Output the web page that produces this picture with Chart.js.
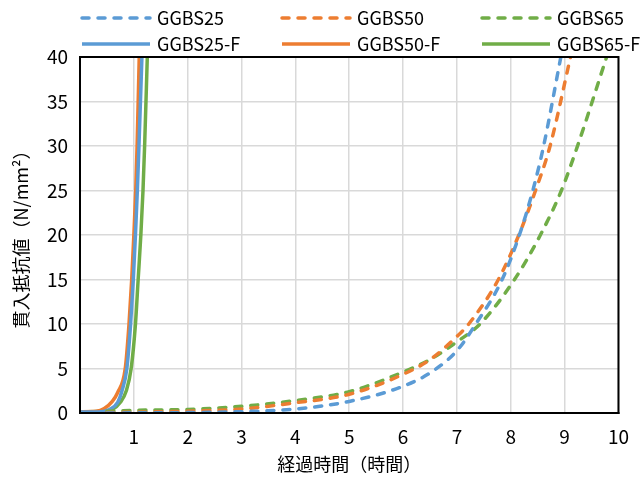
<!DOCTYPE html>
<html>
<head>
<meta charset="utf-8">
<script src="https://cdn.jsdelivr.net/npm/chart.js@4/dist/chart.umd.min.js"></script>
<style>
  html, body { margin: 0; padding: 0; background: #fff; }
  #wrap { width: 641px; height: 477px; }
</style>
</head>
<body>
<div id="wrap"><canvas id="chart"></canvas></div>
<script>
// values (hours, N/mm2)
const seriesNames = ['GGBS25', 'GGBS50', 'GGBS65', 'GGBS25-F', 'GGBS50-F', 'GGBS65-F'];
const seriesColors = ['#5B9BD5', '#ED7D31', '#70AD47', '#5B9BD5', '#ED7D31', '#70AD47'];

const ggbs25X = [0.5, 1, 2, 3, 4, 5, 6, 6.5, 7, 7.34, 7.84, 8.16, 8.41, 8.61, 8.93];
const ggbs25Y = [0, 0.02, 0.05, 0.15, 0.45, 1.3, 3.0, 4.5, 7.0, 9.9, 15, 20, 25, 30, 40];
const ggbs50X = [0.5, 1, 2, 3, 4, 5, 6, 6.5, 7, 7.22, 7.77, 8.15, 8.46, 8.73, 9.11];
const ggbs50Y = [0.05, 0.1, 0.2, 0.45, 1.15, 2.1, 4.35, 6.0, 8.6, 10, 15, 20, 25, 30, 40];
const ggbs65X = [0.5, 1, 2, 3, 4, 5, 6, 6.5, 7, 7.43, 8.07, 8.55, 8.94, 9.24, 9.78];
const ggbs65Y = [0.2, 0.3, 0.4, 0.75, 1.4, 2.4, 4.6, 6.0, 8.0, 10, 15, 20, 25, 30, 40];

const ggbs25fX = [0, 0.35, 0.55, 0.7, 0.78, 0.87, 0.94, 0.99, 1.03, 1.065, 1.095, 1.15];
const ggbs25fY = [0.1, 0.12, 0.4, 1.2, 2.5, 5, 10, 15, 20, 25, 30, 40];
const ggbs50fX = [0, 0.3, 0.45, 0.6, 0.7, 0.84, 0.91, 0.96, 1.0, 1.035, 1.06, 1.1];
const ggbs50fY = [0.15, 0.2, 0.5, 1.3, 2.3, 5, 10, 15, 20, 25, 30, 40];
const ggbs65fX = [0, 0.35, 0.6, 0.75, 0.86, 0.95, 1.03, 1.08, 1.13, 1.17, 1.2, 1.25];
const ggbs65fY = [0.15, 0.17, 0.4, 1.2, 2.5, 5, 10, 15, 20, 25, 30, 40];

const xTitle = '経過時間（時間）';
const yTitle = '貫入抵抗値（N/mm²）';

const FONT = "'Noto Sans CJK JP', sans-serif";

function pts(xs, ys) {
  return xs.map((x, i) => ({ x, y: ys[i] }));
}

function dataset(idx, xs, ys, dashed) {
  return {
    label: seriesNames[idx],
    data: pts(xs, ys),
    borderColor: seriesColors[idx],
    backgroundColor: seriesColors[idx],
    borderWidth: 3.5,
    borderDash: dashed ? [7, 9] : [],
    borderCapStyle: dashed ? 'round' : 'butt',
    pointRadius: 0,
    cubicInterpolationMode: 'monotone',
    fill: false
  };
}

// 2 x 3 legend above the plot
const gridLegend = {
  id: 'gridLegend',
  afterDraw(chart) {
    const ctx = chart.ctx;
    const colX = [80, 280, 480];
    const rowY = [18, 44];
    ctx.save();
    ctx.font = `18px ${FONT}`;
    ctx.textBaseline = 'middle';
    chart.data.datasets.forEach((ds, i) => {
      const x = colX[i % 3];
      const y = rowY[Math.floor(i / 3)];
      ctx.strokeStyle = ds.borderColor;
      ctx.lineWidth = ds.borderWidth;
      ctx.lineCap = ds.borderCapStyle;
      ctx.setLineDash(ds.borderDash);
      ctx.beginPath();
      ctx.moveTo(x + 2, y);
      ctx.lineTo(x + 70, y);
      ctx.stroke();
      ctx.setLineDash([]);
      ctx.fillStyle = '#000';
      ctx.fillText(ds.label, x + 77, y);
    });
    ctx.restore();
  }
};

const plotFrame = {
  id: 'plotFrame',
  afterDatasetsDraw(chart) {
    const { left, top, right, bottom } = chart.chartArea;
    const ctx = chart.ctx;
    ctx.save();
    ctx.strokeStyle = '#000';
    ctx.lineWidth = 2;
    ctx.strokeRect(left, top, right - left, bottom - top);
    ctx.restore();
  }
};

new Chart(document.getElementById('chart'), {
  type: 'line',
  data: {
    datasets: [
      dataset(0, ggbs25X, ggbs25Y, true),
      dataset(1, ggbs50X, ggbs50Y, true),
      dataset(2, ggbs65X, ggbs65Y, true),
      dataset(3, ggbs25fX, ggbs25fY, false),
      dataset(4, ggbs50fX, ggbs50fY, false),
      dataset(5, ggbs65fX, ggbs65fY, false)
    ]
  },
  options: {
    responsive: true,
    maintainAspectRatio: false,
    animation: false,
    layout: { padding: { top: 57, right: 16, bottom: 0, left: 0 } },
    plugins: {
      legend: { display: false },
      tooltip: { enabled: false }
    },
    scales: {
      x: {
        type: 'linear',
        min: 0,
        max: 10,
        afterFit(scale) { scale.height = 64; },
        ticks: {
          stepSize: 1,
          padding: 12,
          color: '#000',
          font: { family: FONT, size: 19 },
          maxRotation: 0,
          callback: v => (v === 0 ? '' : v)
        },
        grid: { color: '#d9d9d9', lineWidth: 1.5, drawTicks: false },
        border: { color: '#000', width: 2 },
        title: {
          display: true,
          text: xTitle,
          color: '#000',
          font: { family: FONT, size: 18 },
          padding: { top: 0, bottom: 2 }
        }
      },
      y: {
        min: 0,
        max: 40,
        afterFit(scale) { scale.width = 80; },
        ticks: {
          stepSize: 5,
          padding: 12,
          color: '#000',
          font: { family: FONT, size: 19 }
        },
        grid: { color: '#d9d9d9', lineWidth: 1.5, drawTicks: false },
        border: { color: '#000', width: 2 },
        title: {
          display: true,
          text: yTitle,
          color: '#000',
          font: { family: FONT, size: 18 },
          padding: { top: 10, bottom: 0 }
        }
      }
    }
  },
  plugins: [gridLegend, plotFrame]
});
</script>
</body>
</html>
